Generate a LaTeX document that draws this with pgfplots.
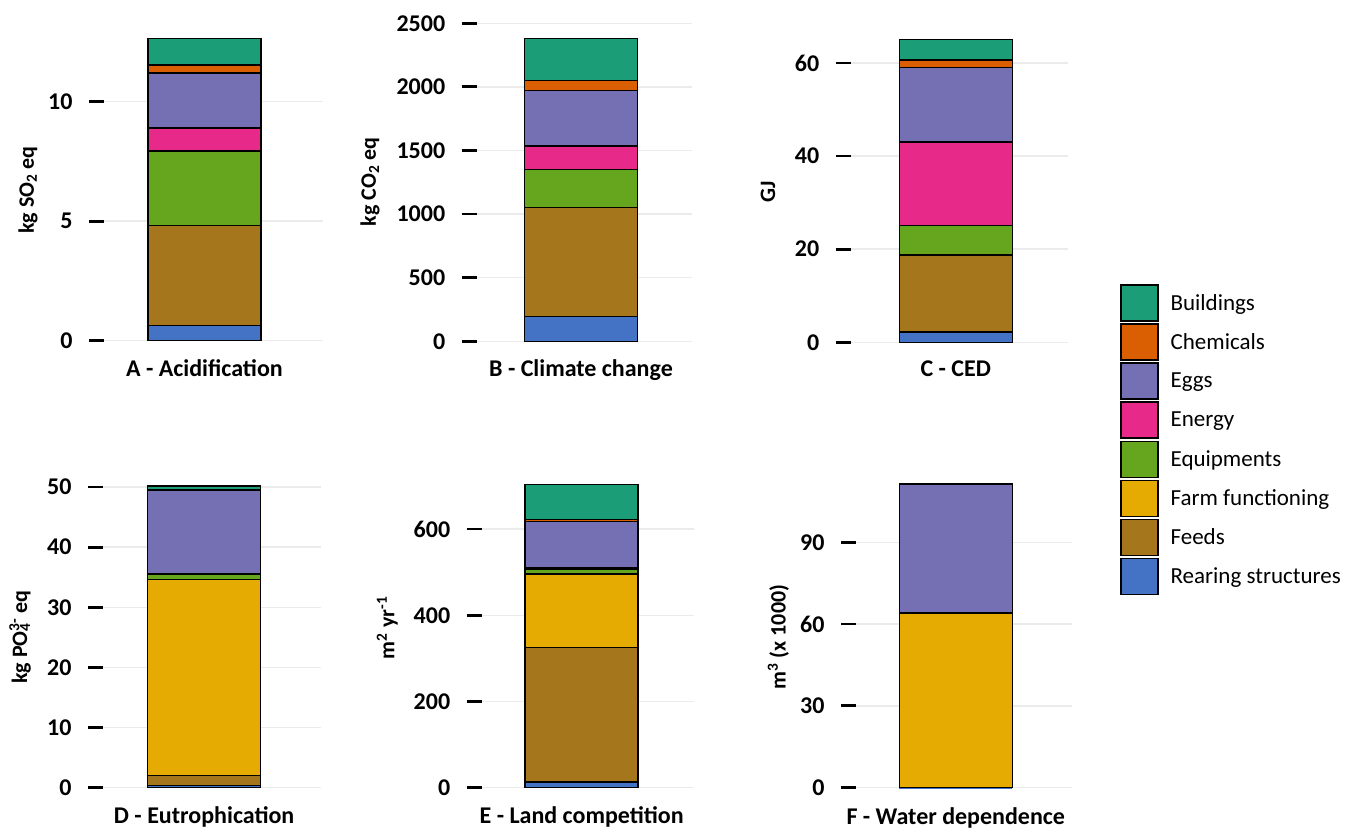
\documentclass[border=0pt]{standalone}
\usepackage{fontspec}
\setmainfont{Carlito}
\usepackage{pgfplots}
\pgfplotsset{compat=1.18}

\definecolor{cBuild}{HTML}{1B9E77}
\definecolor{cChem}{HTML}{D95F02}
\definecolor{cEggs}{HTML}{7570B3}
\definecolor{cEner}{HTML}{E7298A}
\definecolor{cEquip}{HTML}{66A61E}
\definecolor{cFarm}{HTML}{E6AB02}
\definecolor{cFeed}{HTML}{A6761D}
\definecolor{cRear}{HTML}{4472C4}
\definecolor{gridgray}{HTML}{EBEBEB}

\pgfplotsset{
  bx/.style={fill=#1, draw=black, line width=1.4pt},
  panel/.style={
    scale only axis,
    anchor=south west,
    ymin=0,
    clip=false,
    ybar stacked,
    bar width=113pt,
    axis line style={draw=none},
    ymajorgrids,
    grid style={color=gridgray, line width=1.5pt},
    xtick={0},
    xtick style={draw=none},
    ytick style={black, line width=2.8pt},
    ytick pos=left,
    tick align=outside,
    major tick length=15pt,
    tick label style={font=\bfseries\fontsize{24}{28}\selectfont},
    yticklabel style={xshift=-13pt},
    /pgf/number format/assume math mode=true,
    /pgf/number format/1000 sep={},
    ylabel style={font=\bfseries\fontsize{22}{26}\selectfont, anchor=center},
  },
}

\newcommand{\bars}[8]{%
  \addplot[bx=cRear]  coordinates {(0,#1)};
  \addplot[bx=cFeed]  coordinates {(0,#2)};
  \addplot[bx=cFarm]  coordinates {(0,#3)};
  \addplot[bx=cEquip] coordinates {(0,#4)};
  \addplot[bx=cEner]  coordinates {(0,#5)};
  \addplot[bx=cEggs]  coordinates {(0,#6)};
  \addplot[bx=cChem]  coordinates {(0,#7)};
  \addplot[bx=cBuild] coordinates {(0,#8)};
}

\begin{document}
\begin{tikzpicture}
\useasboundingbox (0,0) rectangle (1354pt,832pt);

% A
\begin{axis}[panel, at={(104pt,491.3pt)}, width=219pt, height=320.7pt,
  xmin=-0.889, xmax=1.049, ymax=13.42, ytick={0,5,10},
  xticklabels={A - Acidification},
  ylabel={kg SO\textsubscript{2} eq},
  ylabel style={at={(axis description cs:-0.347,0.47)}}]
\bars{0.64}{4.19}{0}{3.11}{0.96}{2.31}{0.33}{1.11}
\end{axis}

% B
\begin{axis}[panel, at={(476.7pt,490.7pt)}, width=215pt, height=321.3pt,
  xmin=-0.921, xmax=0.978, ymax=2526, ytick={0,500,1000,1500,2000,2500},
  xticklabels={B - Climate change},
  ylabel={kg CO\textsubscript{2} eq},
  ylabel style={at={(axis description cs:-0.496,0.496)}}]
\bars{197}{853}{0}{302}{183}{435}{79}{333}
\end{axis}

% C
\begin{axis}[panel, at={(850.7pt,489.7pt)}, width=217.6pt, height=322.3pt,
  xmin=-0.930, xmax=0.996, ymax=69.22, ytick={0,20,40,60},
  xticklabels={C - CED},
  ylabel={GJ},
  ylabel style={at={(axis description cs:-0.380,0.466)}},
  legend style={at={(axis description cs:1.2376,0.1809)}, anchor=north west,
    draw=none, fill=none, inner sep=0pt, row sep=1.7pt,
    font=\fontsize{23}{26}\selectfont,
    /tikz/every odd column/.append style={column sep=10pt}},
  legend cell align=left,
  reverse legend,
  legend image code/.code={\draw[#1] (0pt,-18pt) rectangle (37pt,18pt);}]
\bars{2.21}{16.54}{0}{6.29}{17.98}{15.96}{1.65}{4.45}
\legend{Rearing structures,Feeds,Farm functioning,Equipments,Energy,Eggs,Chemicals,Buildings}
\end{axis}

% D
\begin{axis}[panel, at={(103pt,44.3pt)}, width=217.7pt, height=317.7pt,
  xmin=-0.892, xmax=1.028, ymax=52.84, ytick={0,10,20,30,40,50},
  xticklabels={D - Eutrophication},
  ylabel={kg PO\rlap{\textsubscript{4}}\textsuperscript{3-} eq},
  ylabel style={at={(axis description cs:-0.381,0.474)}}]
\bars{0.4}{1.66}{32.6}{0.85}{0.08}{13.92}{0.1}{0.6}
\end{axis}

% E
\begin{axis}[panel, at={(481.7pt,44.3pt)}, width=212.4pt, height=317.7pt,
  xmin=-0.886, xmax=0.996, ymax=737, ytick={0,200,400,600},
  xticklabels={E - Land competition},
  ylabel={m\textsuperscript{2} yr\textsuperscript{-1}},
  ylabel style={at={(axis description cs:-0.444,0.503)}}]
\bars{13}{312.5}{170}{11.6}{3}{107.7}{4.6}{81.2}
\end{axis}

% F
\begin{axis}[panel, at={(856pt,44.3pt)}, width=215.7pt, height=317.7pt,
  xmin=-0.883, xmax=1.026, ymax=116.5, ytick={0,30,60,90},
  xticklabels={F - Water dependence},
  xticklabel style={yshift=-1pt},
  ylabel={m\textsuperscript{3} (x 1000)},
  ylabel style={at={(axis description cs:-0.360,0.474)}}]
\bars{0.05}{0.1}{63.8}{0.05}{0.05}{47.3}{0.05}{0.15}
\end{axis}
\end{tikzpicture}
\end{document}
